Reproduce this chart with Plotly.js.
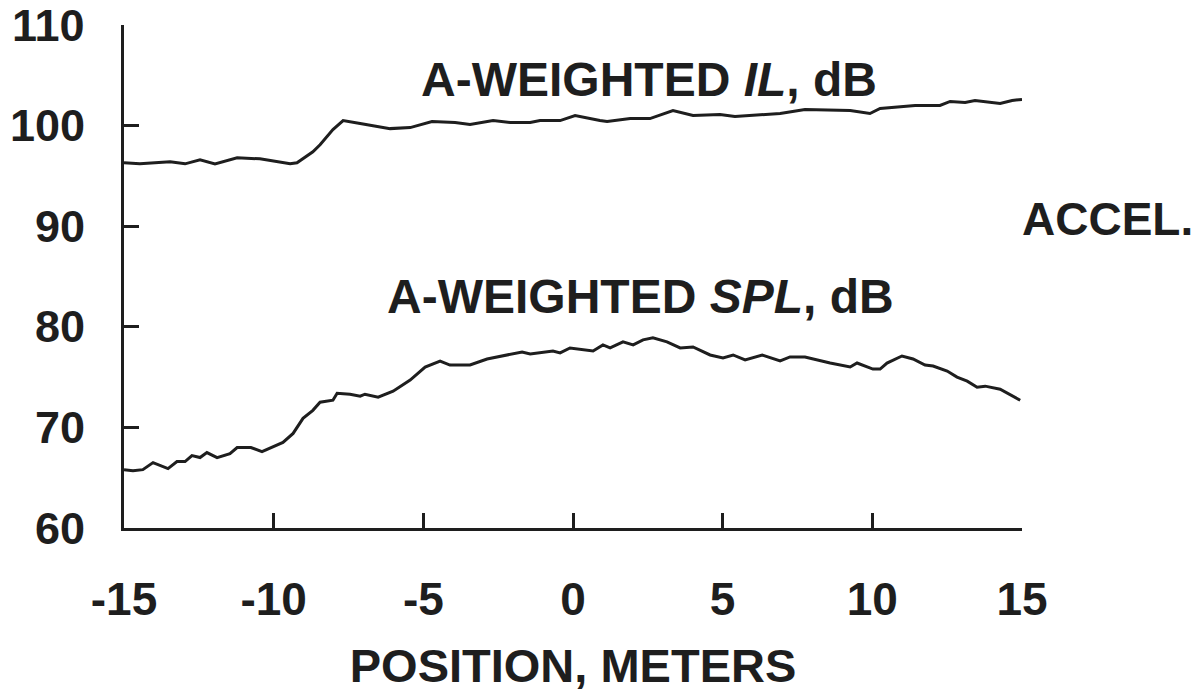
<!DOCTYPE html>
<html>
<head>
<meta charset="utf-8">
<script src="https://cdn.plot.ly/plotly-3.0.1.min.js"></script>
<style>html,body{margin:0;padding:0;background:#fff;}#chart{width:1201px;height:692px;}</style>
</head>
<body>
<div id="chart"></div>
<script>
// Position (m) and A-weighted intensity level (dB)
var ilX = [-15.0,-14.47,-13.46,-12.96,-12.46,-11.96,-11.22,-10.46,-9.45,-9.22,-8.69,-8.45,-8.02,-7.68,-7.11,-6.45,-6.11,-5.44,-5.11,-4.71,-3.94,-3.44,-2.67,-2.10,-1.43,-1.10,-0.43,0.07,0.90,1.14,1.91,2.57,3.34,4.01,4.91,5.41,6.92,7.75,9.26,9.92,10.26,11.43,12.26,12.60,13.10,13.43,14.27,14.67,15.0];
var ilY = [96.3,96.2,96.4,96.2,96.6,96.2,96.8,96.7,96.2,96.3,97.4,98.1,99.6,100.5,100.2,99.9,99.7,99.8,100.1,100.4,100.3,100.1,100.5,100.3,100.3,100.5,100.5,101.0,100.5,100.4,100.7,100.7,101.5,101.0,101.1,100.9,101.2,101.6,101.5,101.2,101.7,102.0,102.0,102.4,102.3,102.5,102.2,102.5,102.6];

// Position (m) and A-weighted sound pressure level (dB)
var splX = [-15.0,-14.70,-14.37,-14.03,-13.53,-13.23,-12.96,-12.73,-12.46,-12.23,-11.89,-11.46,-11.22,-10.76,-10.39,-10.02,-9.69,-9.35,-9.02,-8.69,-8.45,-8.02,-7.88,-7.45,-7.11,-6.95,-6.51,-6.01,-5.44,-4.94,-4.44,-4.11,-3.44,-2.87,-2.20,-1.70,-1.43,-0.67,-0.43,-0.10,0.67,1.00,1.24,1.67,2.01,2.34,2.67,3.14,3.58,4.01,4.58,5.01,5.35,5.75,6.32,6.92,7.25,7.75,8.59,8.92,9.26,9.49,10.02,10.26,10.49,10.99,11.36,11.76,12.03,12.50,12.83,13.17,13.50,13.77,14.27,14.94];
var splY = [65.8,65.7,65.8,66.5,65.9,66.6,66.6,67.2,67.0,67.5,67.0,67.4,68.0,68.0,67.6,68.1,68.5,69.4,70.9,71.7,72.5,72.7,73.4,73.3,73.1,73.3,73.0,73.6,74.7,76.0,76.6,76.2,76.2,76.8,77.2,77.5,77.3,77.6,77.4,77.9,77.6,78.2,77.9,78.5,78.2,78.7,78.9,78.5,77.9,78.0,77.2,76.9,77.2,76.7,77.2,76.6,77.0,77.0,76.4,76.2,76.0,76.4,75.8,75.8,76.4,77.1,76.8,76.2,76.1,75.6,75.0,74.6,74.0,74.1,73.8,72.7];

var xTicks = [-15,-10,-5,0,5,10,15];
var yTicks = [60,70,80,90,100,110];
var labels = {
  il: 'A-WEIGHTED <i>IL</i>, dB',
  spl: 'A-WEIGHTED <i>SPL</i>, dB',
  accel: 'ACCEL.',
  xTitle: 'POSITION, METERS'
};

var ink = '#1e1e1e';
var fam = 'Liberation Sans, Arial, Helvetica, sans-serif';

var traces = [
  {x: ilX, y: ilY, mode: 'lines', line: {color: ink, width: 3}, hoverinfo: 'skip'},
  {x: splX, y: splY, mode: 'lines', line: {color: ink, width: 3}, hoverinfo: 'skip'}
];

// y tick labels placed beside the axis (value from yTicks, positioned by the y scale)
var yLabelAnns = yTicks.map(function (v) {
  return {x: 0, xref: 'paper', y: v, yref: 'y', text: String(v), showarrow: false,
    xanchor: 'right', yanchor: 'middle', xshift: -37,
    font: {family: fam, size: 45, color: ink, weight: 'bold'}};
});

var layout = {
  width: 1201, height: 692,
  margin: {l: 124, r: 179, t: 25, b: 164},
  paper_bgcolor: '#fff', plot_bgcolor: '#fff',
  showlegend: false,
  font: {family: fam, color: ink, weight: 'bold'},
  xaxis: {
    range: [-15, 15], tickvals: xTicks, ticktext: xTicks.map(String),
    showline: true, linecolor: ink, linewidth: 3,
    ticks: 'inside', ticklen: 15, tickwidth: 3, tickcolor: ink,
    showgrid: false, zeroline: false, fixedrange: true,
    tickfont: {family: fam, size: 46, color: ink, weight: 'bold'},
    ticklabelstandoff: 29, ticklabeloverflow: 'allow',
    title: {text: labels.xTitle, font: {family: fam, size: 47, color: ink, weight: 'bold'}, standoff: 44}
  },
  yaxis: {
    range: [60, 110], tickvals: yTicks,
    showline: true, linecolor: ink, linewidth: 3,
    ticks: 'inside', ticklen: 15, tickwidth: 3, tickcolor: ink,
    showgrid: false, zeroline: false, fixedrange: true,
    showticklabels: false
  },
  annotations: yLabelAnns.concat([
    {x: 2.54, y: 104.6, xref: 'x', yref: 'y', text: labels.il, showarrow: false, xanchor: 'center', yanchor: 'middle', font: {family: fam, size: 48, color: ink, weight: 'bold'}},
    {x: 2.27, y: 83.0, xref: 'x', yref: 'y', text: labels.spl, showarrow: false, xanchor: 'center', yanchor: 'middle', font: {family: fam, size: 48, color: ink, weight: 'bold'}},
    {x: 15, y: 90.7, xref: 'x', yref: 'y', text: labels.accel, showarrow: false, xanchor: 'left', yanchor: 'middle', xshift: -2, font: {family: fam, size: 46, color: ink, weight: 'bold'}}
  ])
};

Plotly.newPlot('chart', traces, layout, {displayModeBar: false, staticPlot: true});
</script>
</body>
</html>
